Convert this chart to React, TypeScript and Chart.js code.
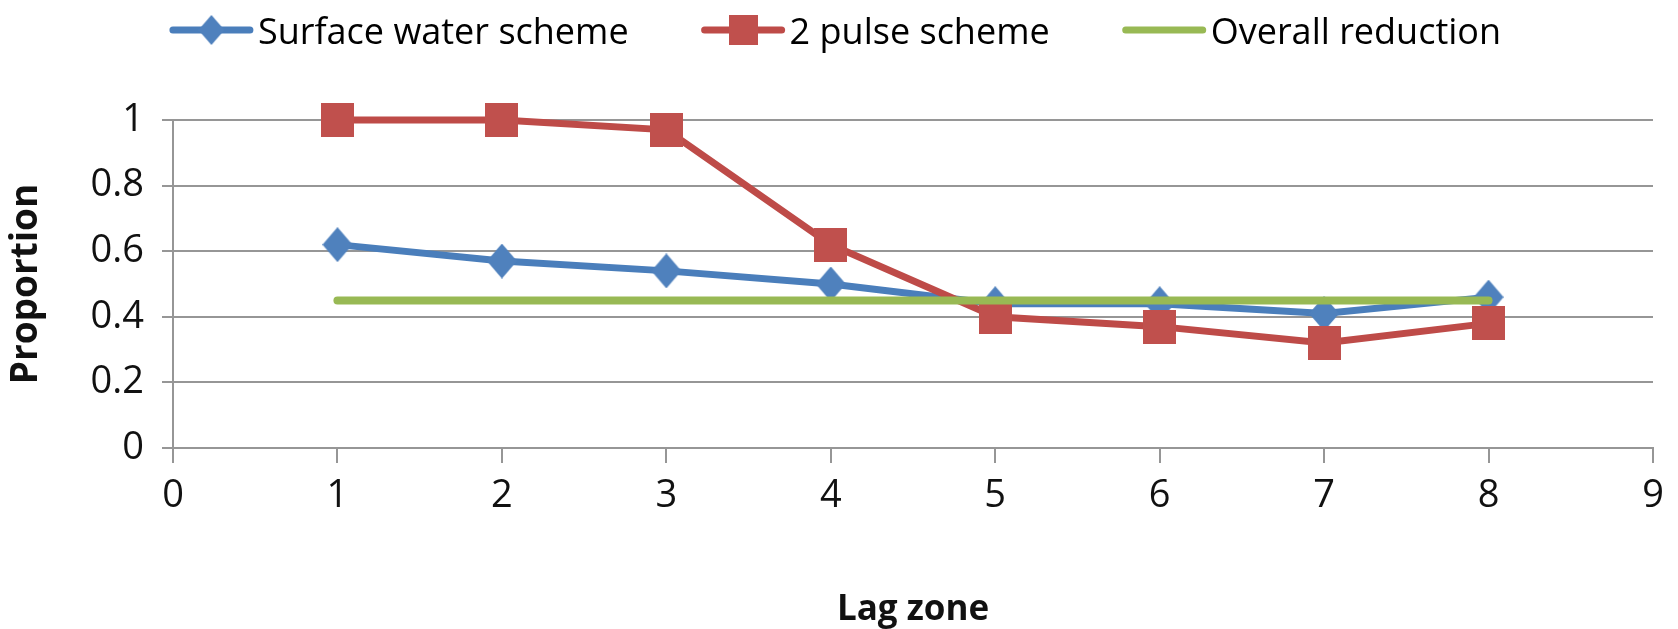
import React, { useEffect, useRef } from "react";
import { Chart, registerables } from "chart.js";

Chart.register(...registerables);

// Lag zones on the horizontal axis and the proportion for each scheme
const lagZones = [1, 2, 3, 4, 5, 6, 7, 8];
const surfaceWaterScheme = [0.62, 0.57, 0.54, 0.5, 0.44, 0.44, 0.41, 0.46];
const twoPulseScheme = [1.0, 1.0, 0.97, 0.62, 0.4, 0.37, 0.32, 0.38];
const overallReduction = [0.45, 0.45, 0.45, 0.45, 0.45, 0.45, 0.45, 0.45];

const seriesNames = ["Surface water scheme", "2 pulse scheme", "Overall reduction"];
const xAxisTitle = "Lag zone";
const yAxisTitle = "Proportion";

const X_MIN = 0;
const X_MAX = 9;
const Y_MIN = 0;
const Y_MAX = 1;
const Y_STEP = 0.2;

const FONT = "'Open Sans', 'DejaVu Sans', sans-serif";
const GRID = "#969696";
const BLUE = "#4A7EBB";
const RED = "#BE4B48";
const GREEN = "#98B954";

function diamondMarker(w: number, h: number, color: string): HTMLCanvasElement {
  const c = document.createElement("canvas");
  c.width = w;
  c.height = h;
  const ctx = c.getContext("2d")!;
  ctx.fillStyle = color;
  ctx.beginPath();
  ctx.moveTo(w / 2, 0);
  ctx.lineTo(w, h / 2);
  ctx.lineTo(w / 2, h);
  ctx.lineTo(0, h / 2);
  ctx.closePath();
  ctx.fill();
  return c;
}

function squareMarker(w: number, h: number, color: string): HTMLCanvasElement {
  const c = document.createElement("canvas");
  c.width = w;
  c.height = h;
  const ctx = c.getContext("2d")!;
  ctx.fillStyle = color;
  ctx.fillRect(0, 0, w, h);
  return c;
}

const toPoints = (ys: number[]) => lagZones.map((x, i) => ({ x, y: ys[i] }));

// Legend drawn as a line sample with the series marker, followed by its name
const lineLegend = {
  id: "lineLegend",
  afterDraw(chart: any) {
    const ctx: CanvasRenderingContext2D = chart.ctx;
    const sampleW = 85;
    const textGap = 4;
    const itemGap = 72;
    const lineY = 30;
    const textBaseline = 44;
    ctx.save();
    ctx.font = `36px ${FONT}`;
    const items = chart.data.datasets.map((ds: any) => ({
      label: ds.label as string,
      color: ds.borderColor as string,
      marker: ds.legendMarker as HTMLCanvasElement | undefined,
    }));
    const widths = items.map((it: any) => sampleW + textGap + ctx.measureText(it.label).width);
    const total = widths.reduce((a: number, b: number) => a + b, 0) + itemGap * (items.length - 1);
    let x = chart.width / 2 - 4 - total / 2;
    items.forEach((it: any, i: number) => {
      ctx.strokeStyle = it.color;
      ctx.lineWidth = 7;
      ctx.lineCap = "round";
      ctx.beginPath();
      ctx.moveTo(x + 4, lineY);
      ctx.lineTo(x + sampleW - 4, lineY);
      ctx.stroke();
      if (it.marker) {
        const m = it.marker;
        ctx.drawImage(m, x + sampleW / 2 - m.width / 2, lineY - m.height / 2);
      }
      ctx.fillStyle = "#000";
      ctx.textAlign = "left";
      ctx.textBaseline = "alphabetic";
      ctx.fillText(it.label, x + sampleW + textGap, textBaseline);
      x += widths[i] + itemGap;
    });
    ctx.restore();
  },
};

export default function App() {
  const canvasRef = useRef<HTMLCanvasElement | null>(null);

  useEffect(() => {
    const canvas = canvasRef.current;
    if (!canvas) return;

    const blueDiamond = diamondMarker(30, 35, "#4F81BD");
    const redSquare = squareMarker(33, 34, "#C0504D");
    const blueDiamondSmall = diamondMarker(26, 30, "#4F81BD");
    const redSquareSmall = squareMarker(29, 30, "#C0504D");

    const chart = new Chart(canvas, {
      type: "line",
      data: {
        datasets: [
          {
            label: seriesNames[0],
            data: toPoints(surfaceWaterScheme),
            borderColor: BLUE,
            backgroundColor: BLUE,
            borderWidth: 7,
            pointStyle: blueDiamond as any,
            pointRadius: 17,
            tension: 0,
            clip: false as any,
            order: 3,
            legendMarker: blueDiamondSmall,
          } as any,
          {
            label: seriesNames[1],
            data: toPoints(twoPulseScheme),
            borderColor: RED,
            backgroundColor: RED,
            borderWidth: 7,
            pointStyle: redSquare as any,
            pointRadius: 17,
            tension: 0,
            clip: false as any,
            order: 2,
            legendMarker: redSquareSmall,
          } as any,
          {
            label: seriesNames[2],
            data: toPoints(overallReduction),
            borderColor: GREEN,
            backgroundColor: GREEN,
            borderWidth: 8,
            borderCapStyle: "round",
            pointRadius: 0,
            tension: 0,
            clip: false as any,
            order: 1,
          } as any,
        ],
      },
      options: {
        responsive: false,
        animation: false,
        events: [],
        layout: { padding: { top: 120, right: 25, left: 0, bottom: 0 } },
        plugins: {
          legend: { display: false },
          tooltip: { enabled: false },
        },
        scales: {
          x: {
            type: "linear",
            min: X_MIN,
            max: X_MAX,
            afterFit: (scale: any) => {
              scale.height = 181;
            },
            ticks: {
              stepSize: 1,
              autoSkip: false,
              maxRotation: 0,
              padding: 10,
              color: "#111",
              font: { family: FONT, size: 38 },
            },
            grid: {
              drawOnChartArea: false,
              drawTicks: true,
              tickLength: 15,
              color: GRID,
              lineWidth: 2,
            },
            border: { display: true, color: GRID, width: 2 },
            title: {
              display: true,
              text: xAxisTitle,
              color: "#111",
              font: { family: FONT, size: 35, weight: "bold", lineHeight: 1 },
              padding: { top: 0, bottom: 1 },
            },
          },
          y: {
            type: "linear",
            min: Y_MIN,
            max: Y_MAX,
            afterFit: (scale: any) => {
              scale.width = 173;
            },
            ticks: {
              stepSize: Y_STEP,
              padding: 18,
              color: "#111",
              font: { family: FONT, size: 38 },
              callback: (v: any) => String(Math.round(Number(v) * 10) / 10),
            },
            grid: {
              drawTicks: true,
              tickLength: 11,
              color: GRID,
              lineWidth: 2,
            },
            border: { display: true, color: GRID, width: 2 },
            title: {
              display: true,
              text: yAxisTitle,
              color: "#111",
              font: { family: FONT, size: 37, weight: "bold", lineHeight: 1 },
              padding: { top: 8, bottom: 0 },
            },
          },
        },
      },
      plugins: [lineLegend],
    });

    return () => chart.destroy();
  }, []);

  return (
    <div style={{ position: "fixed", left: 0, top: 0, width: 1678, height: 629, background: "#fff" }}>
      <canvas ref={canvasRef} width={1678} height={629} style={{ display: "block" }} />
    </div>
  );
}
